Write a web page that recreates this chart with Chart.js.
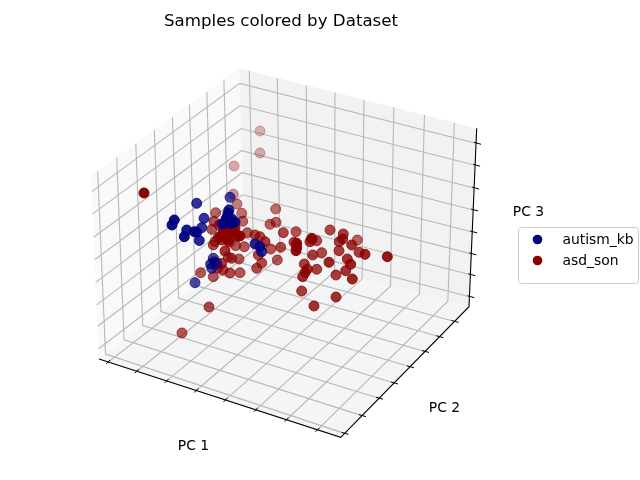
<!DOCTYPE html>
<html>
<head>
<meta charset="utf-8">
<style>
  html, body { margin: 0; padding: 0; background: #fff; }
  canvas { display: block; }
</style>
<script src="https://cdn.jsdelivr.net/npm/chart.js@4/dist/chart.umd.min.js"></script>
</head>
<body>
<canvas id="pcaChart" width="640" height="480"></canvas>
<script>
//Projected sample positions, plus depth shade (far = faint)
const kbX = [196.7, 174.3, 172, 186.7, 184.3, 194.3, 196.7, 201.7, 204, 199.3, 230, 229, 227.3, 229.3, 225, 231.7, 255, 260, 261.7, 213.3, 210.7, 211.7, 216.7, 195, 226, 232, 228, 222, 235];
const kbY = [203.3, 220, 225, 230, 236.7, 231.7, 232.3, 227.7, 218.3, 240.5, 197.3, 210, 216.7, 220, 223.3, 223.3, 244, 246.7, 251.7, 258.3, 264, 268.3, 263.3, 282.7, 219, 219, 213, 224, 222];
const kbShade = [0.8, 0.95, 0.95, 0.9, 0.95, 0.9, 0.9, 0.8, 0.8, 0.85, 0.7, 0.85, 0.85, 0.85, 0.85, 0.85, 0.85, 0.85, 0.8, 0.7, 0.75, 0.7, 0.7, 0.7, 0.85, 0.85, 0.85, 0.85, 0.85];

const sonX = [260, 260, 234, 144, 233.3, 237, 215.7, 241.7, 242.7, 214, 211.7, 219, 275.7, 270, 276, 247.3, 255, 260, 265, 238.3, 225, 235, 240, 220, 228, 218.3, 215, 213.3, 235.7, 244.3, 225, 270.7, 277.3, 258.3, 261.7, 256.7, 239, 231.7, 228.3, 221.7, 218, 223, 230, 240, 200.7, 213.3, 214, 283.3, 296, 330, 343.3, 357.3, 311.7, 316.7, 310, 312, 294, 296.7, 296.7, 296, 280.7, 312.7, 321.7, 339.3, 342.7, 351.7, 339, 359, 365, 387.3, 347.3, 350.7, 329, 304.3, 307.3, 305, 302.7, 316.7, 336, 345.7, 352.3, 301.7, 336, 314, 209, 182, 223, 233, 228, 231, 225, 236, 229, 222];
const sonY = [131, 153, 166, 193, 194.3, 204, 212.7, 213.3, 221.3, 221.3, 229.3, 225, 209, 224.3, 222.3, 232.7, 235, 236.7, 241.7, 236, 230, 228, 236, 237, 240, 237.3, 241.7, 245, 245.7, 246.7, 251, 249, 260, 255, 263, 268.3, 259, 258.3, 257.3, 263.3, 268, 270, 273, 272.7, 272.7, 276.7, 261.7, 232.7, 231.7, 230, 234, 240, 238.3, 240.7, 241.7, 239, 242.3, 243.3, 247.3, 250.7, 247.3, 255, 252.7, 241.7, 239, 245, 250.7, 252.3, 254.3, 256.7, 259, 264.3, 262.3, 264, 269.3, 272.7, 276.7, 269.3, 275, 270.7, 279, 291, 297, 306, 307, 333, 232, 232, 235, 228, 228, 236, 242, 240];
const sonShade = [0.27, 0.3, 0.32, 1, 0.4, 0.5, 0.6, 0.55, 0.6, 0.65, 0.65, 0.7, 0.55, 0.6, 0.6, 0.65, 0.7, 0.7, 0.75, 0.7, 0.9, 0.9, 0.9, 0.9, 0.9, 0.7, 0.7, 0.7, 0.65, 0.65, 0.8, 0.65, 0.65, 0.7, 0.7, 0.7, 0.65, 0.7, 0.7, 0.75, 0.75, 0.7, 0.7, 0.65, 0.65, 0.65, 0.8, 0.7, 0.65, 0.7, 0.75, 0.6, 0.8, 0.7, 0.8, 0.8, 0.75, 0.95, 0.95, 0.95, 0.7, 0.75, 0.7, 0.75, 0.8, 0.8, 0.75, 0.75, 0.85, 0.9, 0.8, 0.85, 0.85, 0.75, 0.8, 0.85, 0.8, 0.75, 0.75, 0.8, 0.85, 0.75, 0.8, 0.8, 0.7, 0.65, 0.9, 0.9, 0.9, 0.9, 0.9, 0.8, 0.8, 0.8];

//Where the tick lines sit along each box edge (0..1)
const pc1TicksFront = [0.038, 0.156, 0.28, 0.402, 0.523, 0.649, 0.776, 0.904];
const pc1TicksBack = [0.042, 0.16, 0.282, 0.403, 0.525, 0.651, 0.78, 0.906];
const pc2Ticks = [0.03, 0.166, 0.299, 0.416, 0.54, 0.657, 0.77, 0.887];
const pc2TicksBack = [0.045, 0.173, 0.302, 0.427, 0.549, 0.664, 0.781, 0.896];
const pc3Ticks = [0.084, 0.207, 0.335, 0.458, 0.581, 0.704, 0.821, 0.944];

const labels = ['autism_kb', 'asd_son'];
const colors = ['0, 0, 128', '139, 0, 0'];

function toPoints(xs, ys) {
    return xs.map((x, i) => ({ x: x, y: ys[i] }));
}

function shaded(rgb, shade) {
    return shade.map(a => `rgba(${rgb}, ${a})`);
}

//Box corners of the 3D axes
const box = {
    topLeft: [91, 176], topBack: [239.3, 68.3], topRight: [476.7, 128.3],
    botLeft: [99, 359], botBack: [244, 248], botRight: [469, 306.7], botFront: [340.7, 437.3]
};

function lerp(a, b, t) {
    return [a[0] + (b[0] - a[0]) * t, a[1] + (b[1] - a[1]) * t];
}

const boxPlugin = {
    id: 'box3d',
    beforeDatasetsDraw(chart) {
        const c = chart.ctx;
        const sx = chart.scales.x, sy = chart.scales.y;
        const px = p => [sx.getPixelForValue(p[0]), sy.getPixelForValue(p[1])];

        function fill(pts, color) {
            c.beginPath();
            pts.map(px).forEach((p, i) => i ? c.lineTo(p[0], p[1]) : c.moveTo(p[0], p[1]));
            c.closePath();
            c.fillStyle = color;
            c.fill();
        }
        function line(pts, color, width) {
            c.beginPath();
            pts.map(px).forEach((p, i) => i ? c.lineTo(p[0], p[1]) : c.moveTo(p[0], p[1]));
            c.strokeStyle = color;
            c.lineWidth = width;
            c.stroke();
        }

        c.save();
        fill([box.topLeft, box.topBack, box.botBack, box.botLeft], '#f9f9f9');
        fill([box.topBack, box.topRight, box.botRight, box.botBack], '#f2f2f2');
        fill([box.botLeft, box.botBack, box.botRight, box.botFront], '#f5f5f5');

        //Grid lines
        const grid = '#b8b8b8';
        pc1TicksFront.forEach((t, i) => {
            line([lerp(box.botLeft, box.botFront, t), lerp(box.botBack, box.botRight, pc1TicksBack[i]), lerp(box.topBack, box.topRight, pc1TicksBack[i])], grid, 1.1);
        });
        pc2Ticks.forEach((t, i) => {
            line([lerp(box.botFront, box.botRight, t), lerp(box.botLeft, box.botBack, pc2TicksBack[i]), lerp(box.topLeft, box.topBack, pc2TicksBack[i])], grid, 1.1);
        });
        pc3Ticks.forEach(t => {
            line([lerp(box.topRight, box.botRight, t), lerp(box.topBack, box.botBack, t), lerp(box.topLeft, box.botLeft, t)], grid, 1.1);
        });

        //Axis lines and ticks
        line([box.botLeft, box.botFront, box.botRight, box.topRight], '#000', 1.1);
        pc1TicksFront.forEach(t => {
            const p = lerp(box.botLeft, box.botFront, t);
            line([[p[0] - 2, p[1] + 2], [p[0] + 2, p[1] - 2]], '#000', 1);
        });
        pc2Ticks.forEach(t => {
            const p = lerp(box.botFront, box.botRight, t);
            line([[p[0] - 3, p[1] - 1], [p[0] + 4, p[1] + 1]], '#000', 1);
        });
        pc3Ticks.forEach(t => {
            const p = lerp(box.topRight, box.botRight, t);
            line([[p[0] - 2, p[1] - 1], [p[0] + 5, p[1] + 1]], '#000', 1);
        });
        c.restore();
    },
    afterDraw(chart) {
        const c = chart.ctx;
        c.save();
        c.fillStyle = '#000';
        c.textBaseline = 'middle';
        c.textAlign = 'center';
        c.font = '16.67px "DejaVu Sans"';
        c.fillText('Samples colored by Dataset', 281, 22);
        c.font = '13.89px "DejaVu Sans"';
        c.fillText('PC 1', 193.5, 446);
        c.fillText('PC 2', 444.5, 408);
        c.fillText('PC 3', 528.5, 212);

        //Legend
        c.beginPath();
        c.roundRect(518.5, 227.5, 120, 56, 3);
        c.fillStyle = 'rgba(255, 255, 255, 0.8)';
        c.fill();
        c.strokeStyle = '#cccccc';
        c.lineWidth = 1;
        c.stroke();
        c.textAlign = 'left';
        labels.forEach((label, i) => {
            const y = 239.5 + i * 21;
            c.beginPath();
            c.arc(537.5, y, 4.8, 0, Math.PI * 2);
            c.fillStyle = `rgb(${colors[i]})`;
            c.fill();
            c.fillStyle = '#000';
            c.fillText(label, 562.5, y + 1);
        });
        c.restore();
    }
};

const ctx = document.getElementById('pcaChart').getContext('2d');
new Chart(ctx, {
    type: 'scatter',
    data: {
        datasets: [
            {
                label: labels[0],
                data: toPoints(kbX, kbY),
                backgroundColor: shaded(colors[0], kbShade),
                borderColor: shaded(colors[0], kbShade)
            },
            {
                label: labels[1],
                data: toPoints(sonX, sonY),
                backgroundColor: shaded(colors[1], sonShade),
                borderColor: shaded(colors[1], sonShade)
            }
        ]
    },
    options: {
        responsive: false,
        animation: false,
        devicePixelRatio: 1,
        layout: { padding: 0, autoPadding: false },
        elements: { point: { radius: 5, borderWidth: 1 } },
        scales: {
            x: { display: false, min: 0, max: 640 },
            y: { display: false, min: 0, max: 480, reverse: true }
        },
        plugins: {
            legend: { display: false },
            tooltip: { enabled: false }
        }
    },
    plugins: [boxPlugin]
});
</script>
</body>
</html>
